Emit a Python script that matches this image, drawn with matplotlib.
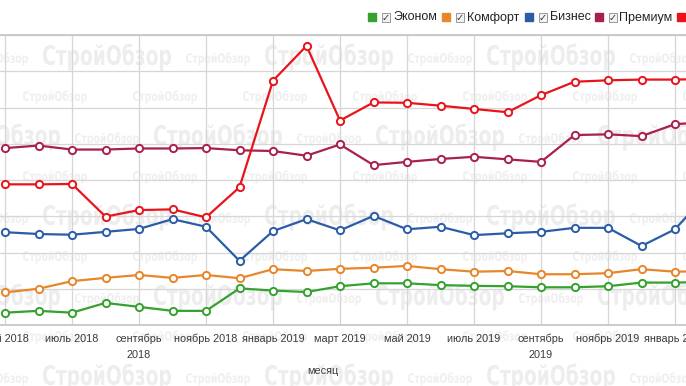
import matplotlib
matplotlib.use("Agg")
import matplotlib.pyplot as plt
from matplotlib.patches import Rectangle, PathPatch
from matplotlib.textpath import TextPath
from matplotlib.font_manager import FontProperties
from matplotlib.transforms import Affine2D, IdentityTransform

plt.rcParams['font.family'] = ['Liberation Sans', 'DejaVu Sans']

# months май 2018 .. февраль 2020, one point per month
months = list(range(22))
tick_pos = list(range(0, 21, 2))
tick_labels = ['май 2018', 'июль 2018', 'сентябрь\n2018', 'ноябрь 2018',
               'январь 2019', 'март 2019', 'май 2019', 'июль 2019',
               'сентябрь\n2019', 'ноябрь 2019', 'январь 2020']

econom = [33.4, 33.9, 33.4, 36.1, 35.0, 33.9, 33.9, 40.1, 39.5, 39.1, 40.7,
          41.5, 41.5, 41.0, 40.8, 40.7, 40.4, 40.4, 40.7, 41.7, 41.7, 41.9]
komfort = [39.0, 40.0, 42.1, 43.0, 43.8, 43.0, 43.8, 42.9, 45.4, 44.9, 45.5,
           45.8, 46.3, 45.4, 44.7, 44.9, 44.0, 44.0, 44.3, 45.4, 44.7, 44.9]
biznes = [55.6, 55.1, 54.9, 55.7, 56.5, 59.2, 57.1, 47.7, 55.9, 59.2, 56.1,
          60.1, 56.4, 57.1, 54.8, 55.3, 55.7, 56.8, 56.8, 51.8, 56.4, 66.5]
premium = [78.8, 79.5, 78.4, 78.4, 78.7, 78.7, 78.8, 78.2, 78.0, 76.7, 79.8,
           74.1, 75.0, 75.8, 76.4, 75.7, 75.0, 82.4, 82.6, 82.1, 85.4, 86.0]
elite = [68.8, 68.8, 68.9, 59.9, 61.7, 61.9, 59.7, 68.0, 97.4, 107.0, 86.4,
         91.4, 91.3, 90.5, 89.6, 88.7, 93.4, 97.1, 97.5, 97.7, 97.7, 97.9]

names = ['Эконом', 'Комфорт', 'Бизнес', 'Премиум', 'Элит']
colors = ['#35a12e', '#e8862a', '#2b5ca8', '#a8204e', '#e8141c']
series = [econom, komfort, biznes, premium, elite]

W, H = 686, 386
fig = plt.figure(figsize=(W / 100, H / 100), dpi=100)
fig.patch.set_facecolor('white')

# watermark tiles, drawn as squeezed text paths (condensed look)
wm_path = TextPath((0, 0), 'СтройОбзор', size=10,
                   prop=FontProperties(family='DejaVu Sans', weight='bold'))
ext = wm_path.get_extents()


def watermark(cx, cy, w, h, color):
    sx = w / ext.width
    sy = h / ext.height
    tr = (Affine2D().translate(-ext.x0 - ext.width / 2, -ext.y0 - ext.height / 2)
          .scale(sx, sy).translate(cx, H - cy))
    p = PathPatch(tr.transform_path(wm_path), facecolor=color, edgecolor='none',
                  transform=IdentityTransform(), zorder=-2)
    fig.patches.append(p)


for r in range(9):
    y = 57 + 40 * r
    if r % 2 == 0:
        shift = 111 if (r // 2) % 2 else 0
        for k in range(-1, 4):
            xb = 107 + shift + 222 * k
            watermark(xb, y, 128, 27, '#ededed')
            watermark(xb + 111, y + 2, 64, 13, '#efefef')
    else:
        for k in range(-1, 7):
            watermark(55 + 110 * k, y, 64, 13, '#efefef')

ax = fig.add_axes([0, 61 / H, 1, 290 / H])
ax.patch.set_visible(False)

for vals, c in zip(series, colors):
    ax.plot(months, vals, color=c, lw=1.6, marker='o', ms=5.2,
            mfc='white', mec=c, mew=1.4, zorder=3)

ax.set_xlim(-5 / 33.5, 681 / 33.5)
ax.set_ylim(30, 110)
ax.set_yticks(range(30, 111, 10))
ax.set_yticklabels([])
ax.set_xticks(tick_pos)
ax.set_xticklabels(tick_labels, fontsize=7.8, color='#3a3a3a', linespacing=1.7)
ax.tick_params(axis='both', length=0)
ax.tick_params(axis='x', pad=6.5)
ax.grid(True, color='#d6d6d6', lw=0.9)
ax.set_axisbelow(True)
for s in ['left', 'right']:
    ax.spines[s].set_visible(False)
for s in ['top', 'bottom']:
    ax.spines[s].set_color('#c4c4c4')
    ax.spines[s].set_linewidth(1.2)

fig.text(323 / W, 1 - 371 / H, 'месяц', ha='center', va='center',
         fontsize=7.8, color='#3a3a3a')

# legend row
sq_x = [368, 442, 525, 595, 677]
lab_x = [393, 467, 550, 619, 702]
ly = 1 - 17.5 / H
for sx, lx, nm, c in zip(sq_x, lab_x, names, colors):
    fig.patches.append(Rectangle((sx / W, 1 - 21 / H), 8 / W, 8 / H,
                                 transform=fig.transFigure, color=c))
    fig.patches.append(Rectangle(((sx + 14) / W, 1 - 21.5 / H), 8 / W, 9 / H,
                                 transform=fig.transFigure, facecolor='#f2f2f2',
                                 edgecolor='#9a9a9a', lw=0.7))
    fig.text((sx + 18) / W, 1 - 17.5 / H, '✓', ha='center', va='center',
             fontsize=7, color='#333333', family='DejaVu Sans')
    fig.text(lx / W, ly, nm, ha='left', va='center', fontsize=9,
             color='#222222')

fig.savefig('out.png', dpi=100)
